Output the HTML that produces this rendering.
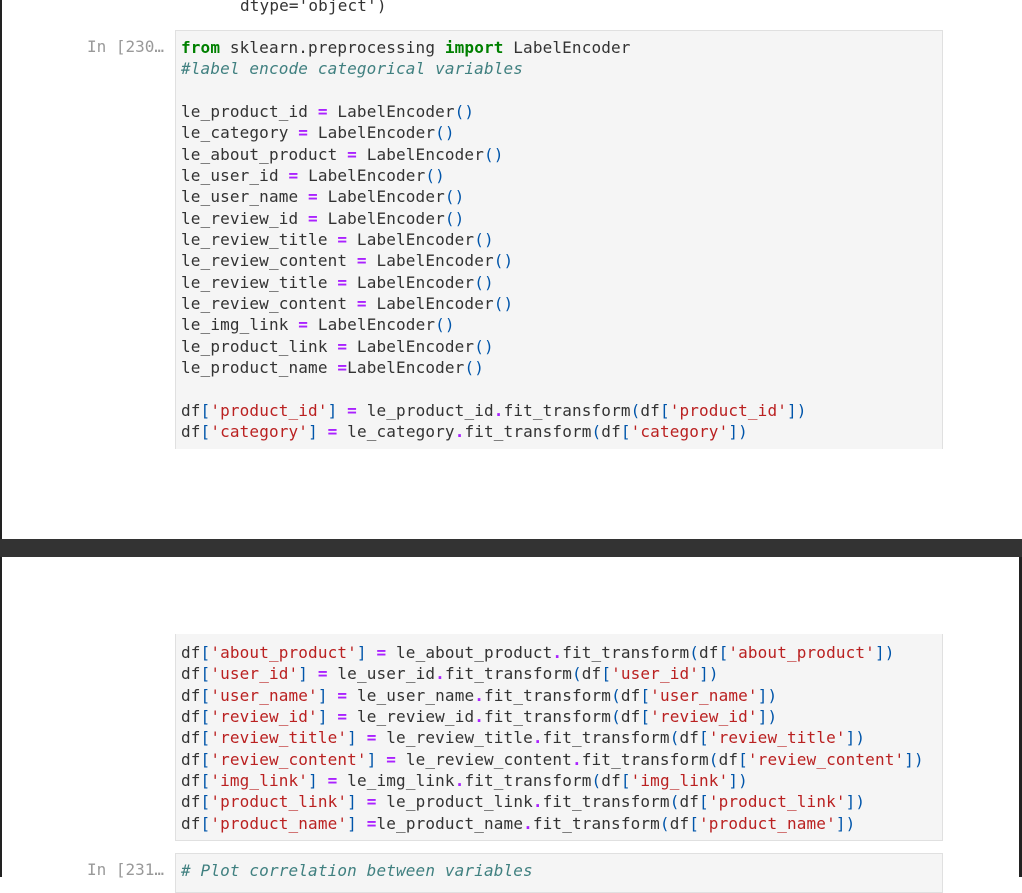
<!DOCTYPE html>
<html><head><meta charset="utf-8"><style>
*{margin:0;padding:0;box-sizing:border-box}
body{width:1022px;height:877px;background:#fff;position:relative;overflow:hidden;font-family:"DejaVu Sans Mono","Liberation Mono",monospace;font-size:16px;color:#333}
.lb{position:absolute;left:0;top:0;width:2px;height:877px;background:#222}
.rb{position:absolute;right:0;top:557px;width:3px;height:320px;background:#222}
.band{position:absolute;left:0;top:539px;width:1022px;height:18px;background:#333}
.box{position:absolute;left:175px;width:768px;background:#f5f5f5;border:1px solid #e0e0e0}
pre{font-family:inherit;font-size:16px;letter-spacing:0.14px;line-height:21.33px;padding-left:5px;white-space:pre}
.pr{position:absolute;left:87px;color:#999;font-size:16px}
.k{color:#008000;font-weight:bold}.c{color:#408080;font-style:italic}.s{color:#BA2121}.o{color:#AA22FF;font-weight:bold}.p{color:#0055AA}
</style></head><body>
<div class="lb"></div><div class="rb"></div><div class="band"></div>
<pre style="position:absolute;left:235px;top:-5px">dtype='object')</pre>
<div class="pr" style="top:37px">In [230…</div>
<div class="box" style="top:30px;height:419px;border-bottom:none"><pre style="padding-top:6px"><span class="k">from</span> sklearn.preprocessing <span class="k">import</span> LabelEncoder
<span class="c">#label encode categorical variables</span>

le_product_id <span class="o">=</span> LabelEncoder<span class="p">()</span>
le_category <span class="o">=</span> LabelEncoder<span class="p">()</span>
le_about_product <span class="o">=</span> LabelEncoder<span class="p">()</span>
le_user_id <span class="o">=</span> LabelEncoder<span class="p">()</span>
le_user_name <span class="o">=</span> LabelEncoder<span class="p">()</span>
le_review_id <span class="o">=</span> LabelEncoder<span class="p">()</span>
le_review_title <span class="o">=</span> LabelEncoder<span class="p">()</span>
le_review_content <span class="o">=</span> LabelEncoder<span class="p">()</span>
le_review_title <span class="o">=</span> LabelEncoder<span class="p">()</span>
le_review_content <span class="o">=</span> LabelEncoder<span class="p">()</span>
le_img_link <span class="o">=</span> LabelEncoder<span class="p">()</span>
le_product_link <span class="o">=</span> LabelEncoder<span class="p">()</span>
le_product_name <span class="o">=</span>LabelEncoder<span class="p">()</span>

df<span class="p">[</span><span class="s">'product_id'</span><span class="p">]</span> <span class="o">=</span> le_product_id<span class="o">.</span>fit_transform<span class="p">(</span>df<span class="p">[</span><span class="s">'product_id'</span><span class="p">])</span>
df<span class="p">[</span><span class="s">'category'</span><span class="p">]</span> <span class="o">=</span> le_category<span class="o">.</span>fit_transform<span class="p">(</span>df<span class="p">[</span><span class="s">'category'</span><span class="p">])</span></pre></div>
<div class="box" style="top:634px;height:207px;border-top:none"><pre style="padding-top:8px">df<span class="p">[</span><span class="s">'about_product'</span><span class="p">]</span> <span class="o">=</span> le_about_product<span class="o">.</span>fit_transform<span class="p">(</span>df<span class="p">[</span><span class="s">'about_product'</span><span class="p">])</span>
df<span class="p">[</span><span class="s">'user_id'</span><span class="p">]</span> <span class="o">=</span> le_user_id<span class="o">.</span>fit_transform<span class="p">(</span>df<span class="p">[</span><span class="s">'user_id'</span><span class="p">])</span>
df<span class="p">[</span><span class="s">'user_name'</span><span class="p">]</span> <span class="o">=</span> le_user_name<span class="o">.</span>fit_transform<span class="p">(</span>df<span class="p">[</span><span class="s">'user_name'</span><span class="p">])</span>
df<span class="p">[</span><span class="s">'review_id'</span><span class="p">]</span> <span class="o">=</span> le_review_id<span class="o">.</span>fit_transform<span class="p">(</span>df<span class="p">[</span><span class="s">'review_id'</span><span class="p">])</span>
df<span class="p">[</span><span class="s">'review_title'</span><span class="p">]</span> <span class="o">=</span> le_review_title<span class="o">.</span>fit_transform<span class="p">(</span>df<span class="p">[</span><span class="s">'review_title'</span><span class="p">])</span>
df<span class="p">[</span><span class="s">'review_content'</span><span class="p">]</span> <span class="o">=</span> le_review_content<span class="o">.</span>fit_transform<span class="p">(</span>df<span class="p">[</span><span class="s">'review_content'</span><span class="p">])</span>
df<span class="p">[</span><span class="s">'img_link'</span><span class="p">]</span> <span class="o">=</span> le_img_link<span class="o">.</span>fit_transform<span class="p">(</span>df<span class="p">[</span><span class="s">'img_link'</span><span class="p">])</span>
df<span class="p">[</span><span class="s">'product_link'</span><span class="p">]</span> <span class="o">=</span> le_product_link<span class="o">.</span>fit_transform<span class="p">(</span>df<span class="p">[</span><span class="s">'product_link'</span><span class="p">])</span>
df<span class="p">[</span><span class="s">'product_name'</span><span class="p">]</span> <span class="o">=</span>le_product_name<span class="o">.</span>fit_transform<span class="p">(</span>df<span class="p">[</span><span class="s">'product_name'</span><span class="p">])</span></pre></div>
<div class="pr" style="top:860px">In [231…</div>
<div class="box" style="top:853px;height:40px"><pre style="padding-top:6px"><span class="c"># Plot correlation between variables</span></pre></div>
</body></html>
